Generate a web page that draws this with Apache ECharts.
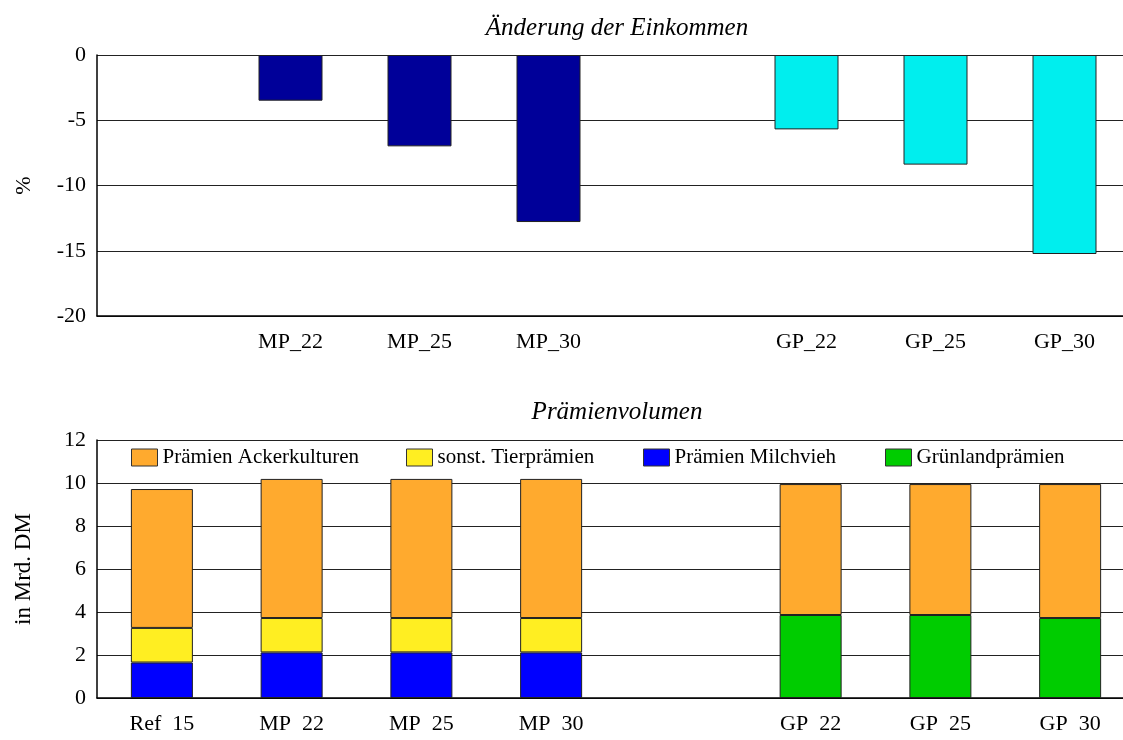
<!DOCTYPE html>
<html>
<head>
<meta charset="utf-8">
<script src="https://cdn.jsdelivr.net/npm/echarts@6/dist/echarts.min.js"></script>
<style>
  html, body { margin: 0; padding: 0; background: #fff; }
  #chart { width: 1123px; height: 740px; }
</style>
</head>
<body>
<div id="chart"></div>
<script>
// Kategorien (Platz 5 bleibt leer als Abstand)
const categories = ["Ref_15", "MP_22", "MP_25", "MP_30", "", "GP_22", "GP_25", "GP_30"];

// Änderung der Einkommen (%)
const einkommenMP = [null, -3.5, -7.0, -12.8, null, null, null, null];
const einkommenGP = [null, null, null, null, null, -5.7, -8.4, -15.25];

// Prämienvolumen (Mrd. DM)
const praemienMilchvieh = [1.65, 2.12, 2.12, 2.12, null, null, null, null];
const gruenlandPraemien = [null, null, null, null, null, 3.86, 3.86, 3.72];
const sonstTierpraemien = [1.61, 1.6, 1.6, 1.6, null, null, null, null];
const praemienAcker = [6.46, 6.47, 6.47, 6.47, null, 6.09, 6.09, 6.23];

const legendNames = ["Prämien Ackerkulturen", "sonst. Tierprämien", "Prämien Milchvieh", "Grünlandprämien"];
const legendLeft = [131, 406, 643, 885];

const FONT = "Liberation Serif";
const chart = echarts.init(document.getElementById("chart"));

const barBorder = { borderColor: "#222", borderWidth: 1 };
const labelStyle = { fontFamily: FONT, fontSize: 22, color: "#000" };
const titleStyle = { fontFamily: FONT, fontStyle: "italic", fontWeight: "normal", fontSize: 25, color: "#000" };

const option = {
    animation: false,
    textStyle: { fontFamily: FONT, color: "#000" },
    title: [
        { text: "Änderung der Einkommen", left: 612, top: 11, textAlign: "center", textStyle: titleStyle },
        { text: "Prämienvolumen", left: 612, top: 395, textAlign: "center", textStyle: titleStyle },
    ],
    // eine Legende pro Eintrag, damit die Abstände wie im Original sind
    legend: legendNames.map((name, i) => ({
        data: [name],
        top: 447, left: legendLeft[i], padding: 0,
        itemWidth: 26, itemHeight: 17, icon: "rect",
        textStyle: { fontFamily: FONT, fontSize: 21, color: "#000" },
        itemStyle: { borderColor: "#333", borderWidth: 1 },
    })),
    // Plotfläche reicht rechts etwas über den Rand hinaus
    grid: [
        { left: 97, top: 55, width: 1032, height: 261, outerBoundsMode: "none" },
        { left: 97, top: 440, width: 1038, height: 258, outerBoundsMode: "none" },
    ],
    xAxis: [
        {
            type: "category", gridIndex: 0, data: categories,
            axisLine: { onZero: false, lineStyle: { color: "#000", width: 1.5 } },
            axisTick: { show: false },
            axisLabel: Object.assign({ margin: 15, interval: 0, formatter: (v, i) => (i === 0 ? "" : v) }, labelStyle),
        },
        {
            type: "category", gridIndex: 1, data: categories,
            axisLine: { lineStyle: { color: "#000", width: 1.5 } },
            axisTick: { show: false },
            axisLabel: Object.assign({ margin: 15, interval: 0, formatter: (v) => v.replace("_", "  ") }, labelStyle),
        },
    ],
    yAxis: [
        {
            type: "value", gridIndex: 0, min: -20, max: 0, interval: 5,
            name: "%", nameLocation: "middle", nameGap: 62, nameRotate: 90,
            nameTextStyle: labelStyle,
            axisLine: { show: true, lineStyle: { color: "#000", width: 1.5 } },
            axisTick: { show: false },
            axisLabel: Object.assign({ margin: 11 }, labelStyle),
            splitLine: { lineStyle: { color: "#222", width: 1.2 } },
        },
        {
            type: "value", gridIndex: 1, min: 0, max: 12, interval: 2,
            name: "in Mrd. DM", nameLocation: "middle", nameGap: 62, nameRotate: 90,
            nameTextStyle: Object.assign({}, labelStyle, { fontSize: 23 }),
            axisLine: { show: true, lineStyle: { color: "#000", width: 1.5 } },
            axisTick: { show: false },
            axisLabel: Object.assign({ margin: 11 }, labelStyle),
            splitLine: { lineStyle: { color: "#222", width: 1.2 } },
        },
    ],
    series: [
        {
            name: "MP", type: "bar", xAxisIndex: 0, yAxisIndex: 0, stack: "e",
            data: einkommenMP, barWidth: 64,
            itemStyle: Object.assign({ color: "#000099" }, barBorder),
        },
        {
            name: "GP", type: "bar", xAxisIndex: 0, yAxisIndex: 0, stack: "e",
            data: einkommenGP, barWidth: 64,
            itemStyle: Object.assign({ color: "#00EEEE" }, barBorder),
        },
        {
            name: "Prämien Milchvieh", type: "bar", xAxisIndex: 1, yAxisIndex: 1, stack: "p",
            data: praemienMilchvieh, barWidth: 62,
            itemStyle: Object.assign({ color: "#0000FF" }, barBorder),
        },
        {
            name: "Grünlandprämien", type: "bar", xAxisIndex: 1, yAxisIndex: 1, stack: "p",
            data: gruenlandPraemien, barWidth: 62,
            itemStyle: Object.assign({ color: "#00CC00" }, barBorder),
        },
        {
            name: "sonst. Tierprämien", type: "bar", xAxisIndex: 1, yAxisIndex: 1, stack: "p",
            data: sonstTierpraemien, barWidth: 62,
            itemStyle: Object.assign({ color: "#FFEE22" }, barBorder),
        },
        {
            name: "Prämien Ackerkulturen", type: "bar", xAxisIndex: 1, yAxisIndex: 1, stack: "p",
            data: praemienAcker, barWidth: 62,
            itemStyle: Object.assign({ color: "#FFAA2E" }, barBorder),
        },
    ],
};

chart.setOption(option);
</script>
</body>
</html>
